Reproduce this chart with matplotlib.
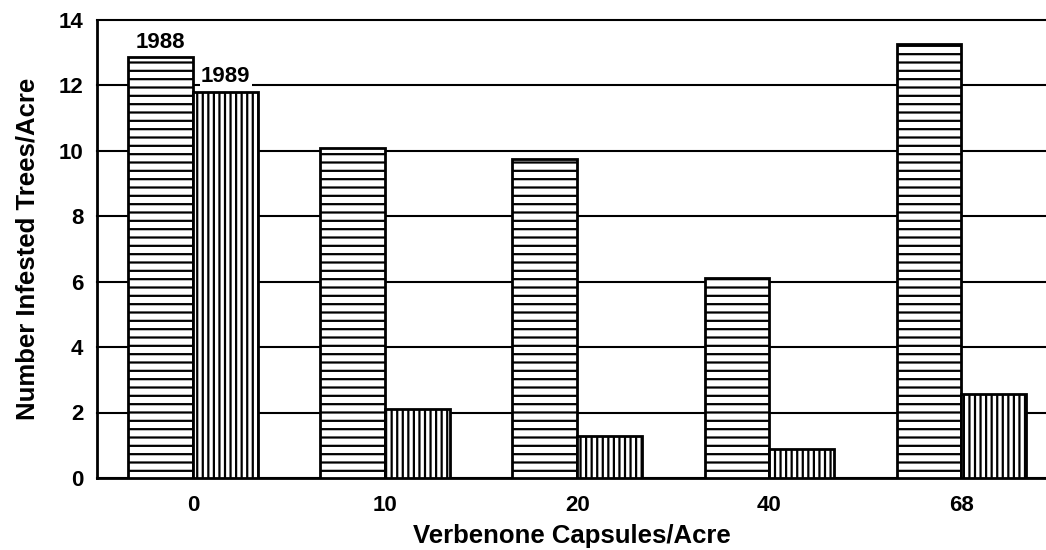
import numpy as np
import matplotlib.pyplot as plt

plt.rcParams['font.family'] = ['Liberation Sans', 'DejaVu Sans']
plt.rcParams['hatch.linewidth'] = 1.6

capsules = ['0', '10', '20', '40', '68']
infested_1988 = [12.85, 10.07, 9.75, 6.12, 13.25]
infested_1989 = [11.8, 2.12, 1.28, 0.87, 2.56]

fig = plt.figure(figsize=(10.46, 5.5), dpi=100)
ax = fig.add_axes([0.093, 0.131, 0.907, 0.833])

x = np.arange(len(capsules))
w = 0.338
ax.bar(x - w / 2, infested_1988, w, color='white', edgecolor='black',
       linewidth=2, hatch='--', zorder=3)
ax.bar(x + w / 2, infested_1989, w, color='white', edgecolor='black',
       linewidth=2, hatch='|||', zorder=3)

ax.text(x[0] - w / 2, infested_1988[0] + 0.15, '1988', ha='center', va='bottom',
        fontsize=16, fontweight='bold', zorder=4)
ax.text(x[0] + w / 2, infested_1989[0] + 0.15, '1989', ha='center', va='bottom',
        fontsize=16, fontweight='bold', zorder=4,
        bbox=dict(facecolor='white', edgecolor='none', pad=1))

ax.set_xlim(-0.5, 4.44)
ax.set_ylim(0, 14)
ax.set_yticks(range(0, 15, 2))
ax.set_xticks(x)
ax.set_xticklabels(capsules)
ax.yaxis.grid(True, color='black', linewidth=1.5, zorder=1)
for gl in ax.get_ygridlines():
    gl.set_clip_on(False)

for s in ['top', 'right']:
    ax.spines[s].set_visible(False)
for s in ['left', 'bottom']:
    ax.spines[s].set_linewidth(2)

ax.tick_params(axis='y', length=0, pad=10, labelsize=16)
ax.tick_params(axis='x', length=0, pad=12, labelsize=16)
for lab in ax.get_xticklabels() + ax.get_yticklabels():
    lab.set_fontweight('bold')

ax.set_xlabel('Verbenone Capsules/Acre', fontsize=18.5, fontweight='bold', labelpad=6)
ax.set_ylabel('Number Infested Trees/Acre', fontsize=18.5, fontweight='bold', labelpad=14)

fig.savefig('out.png', dpi=100)
